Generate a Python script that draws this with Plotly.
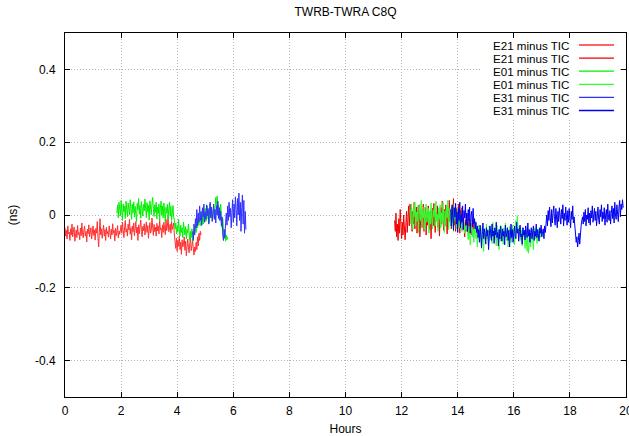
import numpy as np
import plotly.graph_objects as go

# ---------------- data (values in picoseconds, converted to ns) ----------------
STEP_H = 0.025  # sampling interval, hours

E21_A_START = 0.0
E21_A_PS = [
    -35,-58,-42,-66,-30,-52,-47,-70,-38,-55, -25,-60,-44,-33,-72,-50,-41,-62,-29,-54,
    -48,-68,-36,-57,-22,-49,-63,-40,-31,-58, -45,-74,-39,-52,-27,-60,-43,-35,-66,-48,
    -30,-56,-41,-69,-37,-50,-18,-62,-88,-44, -10,-55,-38,-64,-46,-28,-58,-40,-70,-34,
    -52,-45,-61,-30,-48,-66,-39,-55,-24,-50, -42,-71,-36,-57,-47,-29,-63,-44,-53,-35,
    -28,-50,-20,-44,-62,-32,-15,-47,-38,-58, -25,-41,-12,-53,-35,-68,-30,-46,-22,-57,
    -40,-18,-49,-33,-70,-27,-52,-36,-14,-45, -60,-31,-43,-24,-55,-38,-19,-48,-29,-64,
    -35,-21,-50,-42,-8,-39,-56,-26,-46,-33, -58,-23,-44,-30,-52,-15,-41,-36,-62,-27,
    -48,-20,-37,-54,-12,-43,-30,-5,-46,-34, -25,-50,-18,-40,-32,-22,
    -55,-78,-92,-64,-100,-70,-86,-58,-95,-75, -108,-68,-88,-80,-60,-97,-72,-112,-84,-66,
    -90,-104,-76,-62,-98,-85,-70,-93,
    -110,-88,-100,-75,-95,-60,-85,-50,-70,-45,-55]

E21_B_START = 11.75
E21_B_PS = [
    -15,-45,5,-60,-25,-70,-10,-50,15,-35, -65,-20,-55,0,-40,-68,-28,10,-48,-5,
    25,-30,30,-15,20,-45,10,-25,35,-38, -8,22,-50,5,-20,28,-60,-12,15,-35,
    0,30,-45,-18,20,-55,8,-28,25,-10, -40,12,-65,-5,18,-30,32,-20,-48,6,
    -15,25,-35,10,-58,-2,20,-25,38,-12, -42,15,-30,28,-8,-52,12,-22,40,-18,
    5,-38,22,-10,45,-28,8,-45,18,-15, -35,30,-5,-50,12,-25,20,-40,-8,-30,
    -60,-15,-45,5,-35,-20,-50,-10,-38,-25, -55,-30,-15,-42,-25]

E01_A_START = 1.85
E01_A_PS = [
    5,28,-8,35,15,-2,40,20,-15,30, 8,25,-10,38,12,-5,33,18,0,42,
    22,-12,30,6,36,-6,24,10,-18,32, 14,45,2,26,-9,37,16,-3,29,11,
    44,20,-7,34,9,27,-14,39,13,1, 31,48,17,-4,28,7,35,-11,22,4,
    30,-16,19,38,0,25,-8,33,10,-20, 21,5,29,-12,18,35,-3,24,-15,14,
    26,-6,
    -15,-38,-22,-52,-30,-45,-12,-40,-58,-28, -48,-35,-62,-20,-44,-55,-32,-66,-40,-50,
    -25,-58,-70,-45,-62,-38,-72,-55,-48,
    -40,-30,-48,-22,-35,-15,-28,-5,-20,-30, 5,-12,-25,10,-8,18,-18,0,25,-10,
    12,-22,30,-5,15,-15,8,22,-8,35, 48,20,52,-2,28,10,-15,30,-20,-35,
    -10,-50,-65,-40,-72,-55,-68,-60]

E01_B_START = 12.3
E01_B_PS = [
    15,-25,30,-10,-40,20,-5,35,-30,8, -18,25,-48,0,28,-15,40,-35,12,-8,
    22,-42,5,30,-20,-2,18,-50,10,-25, 33,-12,-38,15,-5,25,-30,38,-18,2,
    -45,20,-10,28,-35,6,-22,35,-15,-48, 12,-28,24,-8,40,-40,0,18,-32,10,
    -20,30,-45,5,-15,22,-38,-3,15,-25,
    -10,-35,5,-28,-45,-15,-38,-22,-50,-30,-42,-25,
    -40,-68,-30,-55,-82,-45,-22,-60,-38,-75, -50,-18,-65,-42,-88,-55,-28,-72,-48,-62,
    -92,-35,-58,-100,-44,-70,-52,-25,-66,-40, -82,-30,-56,-62,-38,-78,-20,-50,-34,-68,
    -45,-85,-28,-60,-52,-95,-40,-72,-30,-58, -48,-80,-35,-62,-22,-55,-70,-42,-88,-50,
    -32,-65,-45,-75,-28,-58,-40,-82,-52,-15, -48,-2,-38,-62,-30,-55,-70,-42,-85,-35,
    -60,-48,-92,-40,-68,-100,-55,-105,-75,-50, -88,-62,-40,-70,-95,-52,-35,-65,-48,-78,
    -58,-38,-70,-45,-62,-50,-55]

E31_A_START = 4.55
E31_A_PS = [
    -45,-70,-25,-55,-10,-35,15,-30,5,-20, 25,-15,10,-28,20,-5,30,-20,8,-12,
    28,-2,18,-25,12,35,-8,22,-18,5, 30,-12,15,-22,25,0,38,-10,20,-15,
    10,-30,-5,-55,-70,-40,-62,-20,5,-28, 25,-15,35,-5,18,-35,8,42,-20,30,
    -8,50,15,-30,45,0,60,-15,35,-45, 20,55,-25,40,-50,10,-40]

E31_B_START = 13.75
E31_B_PS = [
    15,-30,28,-12,-42,20,-5,32,-25,8, -48,18,-15,35,-35,2,-20,25,-40,12,
    -8,30,-28,5,-45,15,-18,22,-50,-2, 10,-32,18,-25,-10,-38,
    -20,-48,-30,-62,-40,-75,-28,-55,-90,-45, -22,-65,-38,-52,-80,-35,-58,-42,-95,-60,
    -30,-50,-70,-25,-58,-44,-78,-36,-55,-20, -62,-48,-85,-40,-66,-30,-52,-72,-38,-58,
    -45,-82,-28,-60,-50,-35,-70,-42,-88,-55, -25,-62,-40,-75,-48,-30,-58,-65,-20,-50,
    -38,-72,-45,-28,-60,-52,-80,-35,-55,-42, -68,-30,-50,-62,-22,-58,-40,-75,-48,-35,
    -65,-52,-30,-70,-45,-58,-25,-62,-40,-55, -72,-35,-50,-28,-60,-45,-38,-65,-30,-48,
    -20,0,-30,12,-15,22,-8,-32,15,-22, 5,25,-12,-28,18,-5,-35,10,-18,20,
    -2,-25,15,-10,28,-30,5,-15,22,-8, -28,12,-20,18,0,-35,10,-12,25,-22,
    -5,
    -30,-55,-75,-60,-88,-70,-50,-80,-45,-30,-15,
    -5,-25,8,-18,15,-30,0,-12,20,-22, 5,-28,12,-8,25,-20,-2,18,-15,10,
    -30,3,22,-12,-25,15,-5,28,-18,8, -10,20,-28,0,15,-20,30,-8,-15,12,
    -25,5,25,-10,18,-22,35,0,-12,28, 10,-18,22,40,-5,30,15,42,20]

SERIES = [
    ("E21 minus TIC", E21_A_START, E21_A_PS, "#ff3030"),
    ("E21 minus TIC", E21_B_START, E21_B_PS, "#f00000"),
    ("E01 minus TIC", E01_A_START, E01_A_PS, "#00f000"),
    ("E01 minus TIC", E01_B_START, E01_B_PS, "#30ff30"),
    ("E31 minus TIC", E31_A_START, E31_A_PS, "#3030ff"),
    ("E31 minus TIC", E31_B_START, E31_B_PS, "#0000f0"),
]

X_TICKS = [0, 2, 4, 6, 8, 10, 12, 14, 16, 18, 20]
Y_TICKS = [-0.4, -0.2, 0, 0.2, 0.4]
Y_TICK_LABELS = ["-0.4", "-0.2", "0", "0.2", "0.4"]

# ---------------- figure ----------------
FONT = "Liberation Sans, Arial, Helvetica, sans-serif"
fig = go.Figure()

for name, t0, vals, col in SERIES:
    v = np.array(vals, dtype=float) / 1000.0
    t = t0 + STEP_H * np.arange(len(v))
    fig.add_trace(go.Scatter(x=t, y=v, mode="lines", name=name,
                             line=dict(color=col, width=1), showlegend=False,
                             hoverinfo="skip"))

# gnuplot-style key (text then line sample), on an opaque white box
plot_l, plot_r, plot_t, plot_b = 65, 626, 33, 397
W, H = plot_r - plot_l, plot_b - plot_t
def px_x(p):
    return (p - plot_l) / W
def px_y(p):
    return (plot_b - p) / H

shapes = [dict(type="rect", xref="paper", yref="paper", layer="above",
               x0=px_x(481), x1=px_x(620), y0=px_y(118), y1=px_y(39),
               fillcolor="white", line=dict(width=0))]
annotations = []
for i, (name, _, _, col) in enumerate(SERIES):
    yc = px_y(45 + i * 13.1)
    annotations.append(dict(xref="paper", yref="paper", x=px_x(571), y=yc,
                            xanchor="right", yanchor="middle", showarrow=False,
                            text=name, font=dict(family=FONT, size=11.6, color="black")))
    shapes.append(dict(type="line", xref="paper", yref="paper", layer="above",
                       x0=px_x(579), x1=px_x(614), y0=yc, y1=yc,
                       line=dict(color=col, width=1.3)))

fig.update_layout(
    width=629, height=436,
    margin=dict(l=plot_l, r=629 - plot_r, t=plot_t, b=436 - plot_b, autoexpand=False),
    paper_bgcolor="white", plot_bgcolor="white",
    font=dict(family=FONT, size=12, color="black"),
    title=dict(text="TWRB-TWRA C8Q", x=0.5, xref="paper", xanchor="center",
               y=1 - 12 / 436, yanchor="middle", font=dict(family=FONT, size=12)),
    shapes=shapes, annotations=annotations,
    showlegend=False,
)
GRID = dict(showgrid=True, gridcolor="#b4b4b4", griddash="1px,2px", gridwidth=1,
            zeroline=False, showline=True, linecolor="black", linewidth=1,
            mirror="ticks", ticks="inside", ticklen=5, tickcolor="black",
            automargin=False, ticklabeloverflow="allow")
fig.update_xaxes(range=[0, 20], tickvals=X_TICKS, ticklabelstandoff=3,
                 title=dict(text="Hours", standoff=9, font=dict(family=FONT, size=12)),
                 **GRID)
fig.update_yaxes(range=[-0.5, 0.5], tickvals=Y_TICKS, ticktext=Y_TICK_LABELS,
                 ticklabelstandoff=6,
                 title=dict(text="(ns)", standoff=14, font=dict(family=FONT, size=12)),
                 **GRID)

fig.write_html("out.html", config={"displayModeBar": False},
               post_script="document.body.style.margin='0';")
